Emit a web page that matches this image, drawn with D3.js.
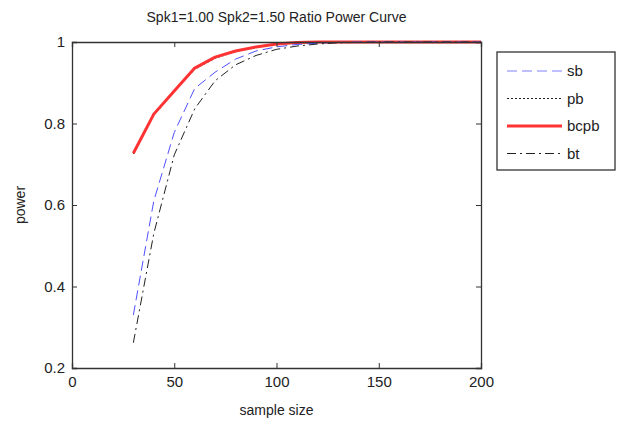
<!DOCTYPE html>
<html>
<head>
<meta charset="utf-8">
<script src="https://cdn.jsdelivr.net/npm/d3@7"></script>
<style>
  body { margin: 0; background: #fff; }
  text { font-family: "Liberation Sans", Arial, sans-serif; fill: #222; }
</style>
</head>
<body>
<div class="chart"></div>
<script>
// data
var sampleSizes = [30, 40, 50, 60, 70, 80, 90, 100, 110, 120, 130, 140, 150, 160, 170, 180, 190, 200];
var sb   = [0.330, 0.610, 0.778, 0.886, 0.926, 0.958, 0.978, 0.988, 0.994, 0.997, 0.999, 1, 1, 1, 1, 1, 1, 1];
var pb   = [0.725, 0.820, 0.878, 0.933, 0.960, 0.976, 0.987, 0.994, 0.998, 1, 1, 1, 1, 1, 1, 1, 1, 1];
var bcpb = [0.727, 0.823, 0.880, 0.936, 0.963, 0.978, 0.988, 0.995, 0.999, 1, 1, 1, 1, 1, 1, 1, 1, 1];
var bt   = [0.262, 0.530, 0.723, 0.836, 0.905, 0.944, 0.967, 0.982, 0.990, 0.995, 0.998, 0.999, 1, 1, 1, 1, 1, 1];
var xTicks = [0, 50, 100, 150, 200];
var yTicks = [0.2, 0.4, 0.6, 0.8, 1];

var svgWidth = 620;
var svgHeight = 425;
var margin = { top: 42, right: 139, bottom: 57, left: 72 };
var width = svgWidth - margin.left - margin.right;
var height = svgHeight - margin.top - margin.bottom;

var svg = d3.select(".chart").append("svg")
  .attr("width", svgWidth)
  .attr("height", svgHeight);

var chartGroup = svg.append("g")
  .attr("transform", `translate(${margin.left}, ${margin.top})`);

var x = d3.scaleLinear().domain([0, 200]).range([0, width]);
var y = d3.scaleLinear().domain([0.2, 1]).range([height, 0]);

// series
var series = [
  { name: "sb",   values: sb,   color: "#4f4fff", width: 1,   dash: "10,5" },
  { name: "pb",   values: pb,   color: "#222",    width: 1,   dash: "2,2" },
  { name: "bcpb", values: bcpb, color: "#ff3333", width: 3,   dash: null },
  { name: "bt",   values: bt,   color: "#222",    width: 1,   dash: "9,4,2,4" }
];

var line = d3.line()
  .x((d, i) => x(sampleSizes[i]))
  .y(d => y(d));

// draw order: pb under red
[series[1], series[2], series[0], series[3]].forEach(function(s) {
  chartGroup.append("path")
    .datum(s.values)
    .attr("d", line)
    .attr("fill", "none")
    .attr("stroke", s.color)
    .attr("stroke-width", s.width)
    .attr("stroke-dasharray", s.dash)
    .attr("stroke-linejoin", "round");
});

// axes: MATLAB style, ticks inside on all four sides
var axisColor = "#333";
var bottomAxis = d3.axisBottom(x).tickValues(xTicks).tickSize(-5).tickPadding(8).tickFormat(d3.format("d"));
var topAxis = d3.axisTop(x).tickValues(xTicks).tickSize(-5).tickFormat("");
var leftAxis = d3.axisLeft(y).tickValues(yTicks).tickSize(-5).tickPadding(7).tickFormat(d => d === 1 ? "1" : d3.format(".1f")(d));
var rightAxis = d3.axisRight(y).tickValues(yTicks).tickSize(-5).tickFormat("");

function styleAxis(g) {
  g.select(".domain").attr("stroke", axisColor).attr("stroke-width", 1.3);
  g.selectAll(".tick line").attr("stroke", axisColor);
  g.selectAll(".tick text").attr("font-size", 15).attr("fill", "#333")
    .attr("font-family", "'Liberation Sans', Arial, sans-serif");
}

chartGroup.append("g").attr("transform", `translate(0, ${height})`).call(bottomAxis).call(styleAxis);
chartGroup.append("g").call(topAxis).call(styleAxis);
chartGroup.append("g").call(leftAxis).call(styleAxis);
chartGroup.append("g").attr("transform", `translate(${width}, 0)`).call(rightAxis).call(styleAxis);

// labels
svg.append("text")
  .attr("x", margin.left + width / 2)
  .attr("y", 22)
  .attr("text-anchor", "middle")
  .attr("font-size", 14)
  .text("Spk1=1.00 Spk2=1.50 Ratio Power Curve");

svg.append("text")
  .attr("x", margin.left + width / 2)
  .attr("y", 415)
  .attr("text-anchor", "middle")
  .attr("font-size", 14)
  .text("sample size");

svg.append("text")
  .attr("transform", `translate(25, ${margin.top + height / 2}) rotate(-90)`)
  .attr("text-anchor", "middle")
  .attr("font-size", 14)
  .text("power");

// legend
var legend = svg.append("g").attr("transform", "translate(497, 52)");
legend.append("rect")
  .attr("width", 118).attr("height", 118)
  .attr("fill", "#fff").attr("stroke", "#333").attr("stroke-width", 1.3);

series.forEach(function(s, i) {
  var ly = 19 + i * 27.5;
  legend.append("line")
    .attr("x1", 10).attr("x2", 65).attr("y1", ly).attr("y2", ly)
    .attr("stroke", s.color === "#4f4fff" ? "#8080ff" : s.color)
    .attr("stroke-width", s.width)
    .attr("stroke-dasharray", s.dash);
  legend.append("text")
    .attr("x", 70).attr("y", ly + 5)
    .attr("font-size", 15)
    .text(s.name);
});
</script>
</body>
</html>
